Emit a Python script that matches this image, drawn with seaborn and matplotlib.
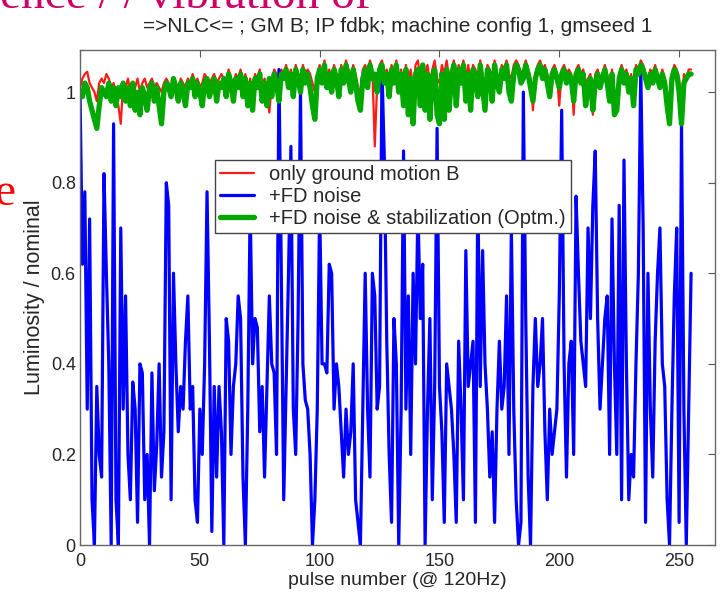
import matplotlib
matplotlib.use('agg')
import matplotlib.pyplot as plt
import seaborn as sns
import pandas as pd

# luminosity / nominal, one value per pulse (0..255)
only_gm = [
    1.01, 1.03, 1.04, 1.045, 1.02, 1.01, 1.00, 0.98, 1.02, 1.03, 1.02, 1.04, 1.03, 1.01, 1.02, 1.00,
    0.97, 0.93, 1.02, 1.01, 1.03, 1.00, 1.02, 1.01, 1.03, 1.00, 1.02, 1.03, 1.01, 1.02, 1.03, 1.01,
    1.02, 1.01, 1.00, 1.02, 1.03, 1.02, 1.01, 1.03, 1.02, 1.00, 1.03, 1.02, 1.01, 1.03, 1.02, 1.04,
    1.02, 1.03, 1.01, 1.02, 1.04, 1.03, 1.02, 1.03, 1.04, 1.02, 1.03, 1.04, 1.03, 1.02, 1.05, 1.03,
    1.02, 1.04, 1.03, 1.05, 1.02, 1.04, 1.00, 1.03, 0.98, 1.04, 1.03, 1.05, 1.01, 1.03, 0.99, 0.955,
    1.02, 1.05, 1.04, 1.02, 1.05, 1.04, 1.06, 1.03, 1.05, 1.02, 1.06, 1.04, 1.03, 1.06, 1.04, 1.05,
    1.04, 1.02, 1.00, 1.04, 1.06, 1.04, 1.07, 1.03, 1.05, 1.03, 1.06, 1.04, 1.02, 1.06, 1.04, 1.07,
    1.05, 1.03, 1.06, 1.04, 1.01, 1.00, 1.05, 1.06, 1.04, 1.07, 1.05, 0.88, 1.02, 1.06, 1.07, 1.04,
    1.05, 1.03, 1.06, 1.04, 1.07, 1.03, 1.05, 1.01, 1.06, 1.02, 1.05, 1.00, 1.06, 1.07, 1.03, 1.06,
    1.04, 1.06, 1.02, 1.05, 1.07, 1.03, 1.02, 1.06, 1.04, 1.07, 1.03, 1.05, 1.07, 1.02, 1.06, 1.04,
    1.07, 1.03, 1.06, 1.02, 1.06, 1.05, 1.03, 1.07, 1.04, 0.98, 1.06, 1.05, 1.02, 1.07, 1.04, 1.03,
    1.06, 1.05, 1.07, 1.04, 1.03, 1.06, 1.07, 1.06, 1.04, 1.05, 1.07, 1.05, 1.03, 0.96, 1.04, 1.06,
    1.07, 1.05, 1.06, 1.04, 1.02, 1.05, 1.06, 1.04, 0.97, 1.05, 1.06, 1.04, 1.05, 1.04, 0.95, 1.05,
    1.06, 1.04, 1.05, 1.02, 1.03, 1.04, 0.95, 1.04, 1.05, 1.03, 1.04, 1.06, 1.04, 1.00, 1.05, 0.97,
    0.98, 1.04, 1.06, 1.04, 1.05, 1.02, 1.04, 1.00, 1.06, 1.05, 1.07, 1.06, 1.04, 1.03, 1.05, 1.04,
    1.06, 1.04, 1.03, 1.05, 1.03, 1.00, 0.96, 1.04, 1.06, 1.05, 1.03, 0.96, 1.04, 1.03, 1.05, 1.05,
]

fd_noise = [
    1.00, 0.62, 0.78, 0.30, 0.72, 0.10, 0.00, 0.35, 0.20, 0.15, 0.82, 0.60, 0.40, 0.00, 0.93, 0.10,
    0.00, 0.70, 0.30, 0.55, 0.20, 0.10, 0.36, 0.30, 0.05, 0.40, 0.38, 0.10, 0.20, 0.00, 0.38, 0.12,
    0.22, 0.40, 0.15, 0.25, 0.80, 0.75, 0.10, 0.60, 0.40, 0.25, 0.35, 0.30, 0.45, 0.55, 0.30, 0.35,
    0.10, 0.05, 0.30, 0.20, 0.40, 0.78, 0.45, 0.03, 0.35, 0.15, 0.35, 0.25, 0.00, 0.50, 0.45, 0.20,
    0.35, 0.40, 0.55, 0.50, 0.15, 0.00, 0.30, 0.75, 0.40, 0.50, 0.48, 0.25, 0.35, 0.15, 0.35, 0.55,
    0.40, 0.38, 0.20, 1.05, 0.60, 0.10, 0.35, 0.60, 0.88, 0.30, 0.20, 0.50, 1.00, 0.40, 0.32, 0.30,
    0.20, 0.00, 0.10, 0.30, 0.75, 0.40, 0.40, 0.38, 0.62, 0.60, 0.30, 0.40, 0.35, 0.25, 0.15, 0.30,
    0.20, 0.25, 0.40, 0.10, 0.05, 0.00, 0.30, 0.60, 0.30, 0.15, 0.60, 0.55, 0.30, 0.35, 1.05, 0.85,
    0.45, 0.20, 0.05, 0.50, 0.40, 0.00, 0.30, 0.87, 0.30, 0.55, 0.20, 0.60, 0.40, 0.75, 0.50, 0.62,
    0.00, 0.30, 0.50, 0.10, 0.35, 0.92, 0.35, 0.25, 0.05, 0.40, 0.35, 0.30, 0.20, 0.05, 0.45, 0.30,
    0.10, 0.65, 0.35, 0.40, 0.45, 0.05, 0.78, 0.35, 0.65, 0.40, 0.30, 0.15, 0.25, 0.05, 0.30, 0.45,
    0.30, 0.35, 0.55, 0.20, 0.70, 0.30, 0.10, 0.00, 0.05, 1.00, 0.50, 0.15, 0.00, 0.35, 0.50, 0.35,
    0.40, 0.50, 0.25, 0.10, 0.30, 0.20, 0.25, 0.30, 0.55, 0.96, 0.40, 0.15, 0.40, 0.45, 0.20, 0.77,
    0.60, 0.45, 0.40, 0.35, 0.70, 0.50, 0.75, 0.87, 0.50, 0.30, 0.40, 0.50, 0.55, 0.20, 0.72, 0.40,
    0.20, 0.75, 0.10, 0.85, 0.40, 0.10, 0.20, 0.15, 0.40, 0.60, 1.05, 0.70, 0.05, 0.60, 0.30, 0.15,
    0.45, 0.60, 0.70, 0.40, 0.35, 0.10, 0.00, 0.30, 0.55, 0.70, 0.05, 0.93, 0.30, 0.00, 0.30, 0.60,
]

fd_stab = [
    1.00, 0.99, 1.02, 1.01, 0.98, 0.96, 0.94, 0.92, 0.97, 1.01, 1.00, 0.99, 1.02, 0.98, 1.01, 0.97,
    1.01, 0.99, 1.02, 0.98, 1.01, 0.97, 1.02, 0.96, 1.00, 0.95, 1.01, 0.99, 0.96, 1.01, 1.02, 0.98,
    1.01, 0.97, 0.93, 1.00, 1.02, 1.01, 0.99, 1.03, 1.01, 0.98, 1.02, 1.00, 0.97, 1.02, 1.01, 1.03,
    0.99, 1.02, 1.00, 0.97, 1.02, 1.03, 0.99, 1.01, 1.03, 0.98, 1.02, 1.01, 1.03, 0.99, 1.04, 1.02,
    0.98, 1.03, 1.01, 1.04, 0.99, 1.03, 0.97, 1.02, 0.96, 1.03, 1.01, 1.04, 0.98, 1.02, 0.97, 1.03,
    0.99, 1.04, 1.02, 0.98, 1.04, 1.03, 1.05, 1.01, 1.04, 0.99, 1.05, 1.03, 1.00, 1.05, 1.02, 1.04,
    1.01, 0.97, 0.94, 1.03, 1.05, 1.02, 1.06, 1.01, 1.04, 1.00, 1.05, 1.03, 0.99, 1.05, 1.02, 1.06,
    1.03, 1.00, 1.05, 1.02, 0.98, 0.96, 1.03, 1.05, 1.01, 1.06, 1.03, 1.04, 1.00, 1.05, 1.06, 1.02,
    1.04, 0.99, 1.05, 1.02, 1.06, 1.00, 1.04, 0.97, 1.05, 0.95, 1.03, 0.93, 1.04, 1.05, 0.97, 1.06,
    0.96, 1.04, 0.94, 1.03, 1.05, 0.95, 0.93, 1.04, 0.94, 1.05, 0.96, 1.03, 1.06, 0.97, 1.05, 1.02,
    1.06, 0.98, 1.04, 0.96, 1.05, 1.03, 0.99, 1.06, 1.01, 0.96, 1.05, 1.04, 0.98, 1.06, 1.02, 1.00,
    1.05, 1.03, 1.06, 1.00, 0.98, 1.04, 1.06, 1.05, 1.02, 1.03, 1.06, 1.04, 1.01, 0.98, 1.03, 1.05,
    1.06, 1.03, 1.05, 1.02, 0.99, 1.04, 1.05, 1.03, 1.01, 1.04, 1.05, 1.02, 1.04, 1.03, 0.98, 1.04,
    1.05, 1.02, 1.04, 0.97, 1.01, 1.03, 0.96, 1.02, 1.04, 1.01, 1.03, 1.05, 1.02, 0.98, 1.04, 0.95,
    0.96, 1.03, 1.05, 1.02, 1.04, 1.00, 1.03, 0.97, 1.05, 1.04, 1.06, 1.05, 1.03, 1.01, 1.04, 1.02,
    1.05, 1.03, 1.01, 1.04, 1.02, 0.97, 0.93, 1.03, 1.05, 1.04, 1.00, 0.93, 1.02, 1.03, 1.04, 1.04,
]

pulse = list(range(len(fd_noise)))

labels = ['only ground motion B', '+FD noise', '+FD noise & stabilization (Optm.)']
xticks = [0, 50, 100, 150, 200, 250]
yticks = [0, 0.2, 0.4, 0.6, 0.8, 1]
yticklabels = ['0', '0.2', '0.4', '0.6', '0.8', '1']

if __name__ == '__main__':
    sns.set_style('white')
    plt.rcParams['font.family'] = ['Liberation Sans', 'DejaVu Sans']

    data = pd.DataFrame({'pulse': pulse, 'gm': only_gm, 'fd': fd_noise, 'stab': fd_stab})

    fig = plt.figure(figsize=(7.23, 5.97), dpi=100)
    ax = fig.add_axes([0.1107, 0.0871, 0.8783, 0.8291])

    sns.lineplot(data=data, x='pulse', y='gm', color='#ff1a1a', lw=1.6, label=labels[0], ax=ax)
    sns.lineplot(data=data, x='pulse', y='fd', color='#0000ff', lw=2.3, label=labels[1], ax=ax)
    sns.lineplot(data=data, x='pulse', y='stab', color='#00a800', lw=3.8, label=labels[2], ax=ax)

    ax.set_xlim(0, 265)
    ax.set_ylim(0, 1.093)
    ax.set_xticks(xticks)
    ax.set_yticks(yticks)
    ax.set_yticklabels(yticklabels)
    ax.tick_params(direction='in', top=True, right=True, length=5, labelsize=13,
                   color='#555555', pad=3)
    ax.tick_params(axis='x', pad=6)
    for s in ax.spines.values():
        s.set_color('#666666')
        s.set_linewidth(1.0)

    ax.set_xlabel('pulse number (@ 120Hz)', fontsize=14, labelpad=1)
    ax.set_ylabel('Luminosity / nominal', fontsize=15.5, labelpad=4)
    ax.set_title('=>NLC<= ; GM B; IP fdbk; machine config 1, gmseed 1', fontsize=15, pad=13)

    leg = ax.legend(loc='upper left', bbox_to_anchor=(0.2126, 0.778), fontsize=14.5,
                    fancybox=False, framealpha=1, edgecolor='#444444',
                    borderpad=0.25, labelspacing=0.15, handlelength=1.7,
                    handletextpad=0.75, borderaxespad=0)
    leg.get_frame().set_linewidth(1.0)

    # slide text cut by the screenshot
    fig.text(0.0, 1.0 - 8 / 597, 'ence / / vibration of', fontsize=34, color='#cc0066',
             family=['Liberation Serif', 'DejaVu Serif'], ha='left', va='baseline')
    fig.text(-0.008, 1.0 - 205 / 597, 'e', fontsize=34, color='#ff0000',
             family=['Liberation Serif', 'DejaVu Serif'], ha='left', va='baseline')

    plt.savefig('out.png', dpi=100)
